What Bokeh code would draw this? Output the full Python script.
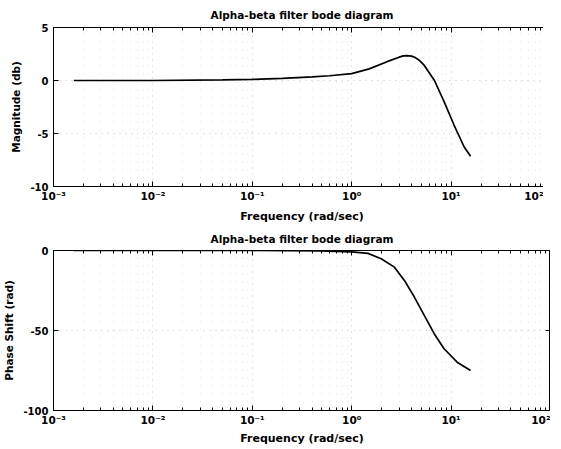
from bokeh.plotting import figure
from bokeh.layouts import column
from bokeh.models import FixedTicker, LogAxis, LinearAxis, Range1d, CustomJSTickFormatter
from bokeh.embed import file_html
from bokeh.resources import INLINE

# ---- data ----
mag_freq = [0.0016, 0.01, 0.05, 0.1, 0.2, 0.4, 0.6, 1.0, 1.5, 2.3, 3.0, 3.3, 3.6, 4.0, 4.3, 4.8, 5.4, 6.8, 8.5, 10.7, 13.5, 15.7]
mag_db = [0.0, 0.0, 0.05, 0.1, 0.2, 0.35, 0.45, 0.65, 1.1, 1.8, 2.2, 2.32, 2.35, 2.3, 2.2, 1.9, 1.4, 0.0, -2.0, -4.2, -6.25, -7.15]

ph_freq = [0.0016, 0.1, 0.5, 1.0, 1.46, 1.98, 2.69, 3.39, 4.27, 5.37, 6.76, 8.5, 11.5, 15.7]
ph_deg = [0.0, 0.0, -0.3, -0.8, -1.8, -5.2, -10.4, -18.7, -29.1, -40.6, -52.0, -61.4, -69.8, -75.0]

x_ticks = [0.001, 0.01, 0.1, 1, 10, 100]
x_tick_labels = ["10\u207b\u00b3", "10\u207b\u00b2", "10\u207b\u00b9", "10\u2070", "10\u00b9", "10\u00b2"]
mag_ticks = [-10, -5, 0, 5]
mag_tick_labels = ["-10", "-5", "0", "5"]
ph_ticks = [-100, -50, 0]
ph_tick_labels = ["-100", "-50", "0"]

title_text = "Alpha-beta filter bode diagram"
xlabel = "Frequency (rad/sec)"

FONT = "DejaVu Sans"
MINOR = [m * 10.0 ** e for e in range(-3, 2) for m in range(2, 10)]


def style_axis(ax):
    ax.major_tick_in = 5
    ax.major_tick_out = 0
    ax.minor_tick_in = 3
    ax.minor_tick_out = 0
    ax.axis_line_color = "black"
    ax.major_tick_line_color = "black"
    ax.minor_tick_line_color = "black"
    ax.major_label_text_font = FONT
    ax.major_label_text_font_style = "bold"
    ax.major_label_text_font_size = "10px"
    ax.major_label_text_color = "black"
    ax.axis_label_text_font = FONT
    ax.axis_label_text_font_style = "bold"
    ax.axis_label_text_font_size = "10.5px"
    ax.axis_label_text_color = "black"


def make(fh, ylabel, yr, yticks, ylabels, xs, ys, title_standoff, xlab_standoff):
    p = figure(frame_width=497, frame_height=fh, x_axis_type="log",
               x_range=Range1d(1e-3, 1e2), y_range=Range1d(*yr),
               output_backend="svg", toolbar_location=None, title=title_text)
    p.title.align = "center"
    p.title.text_font = FONT
    p.title.text_font_style = "bold"
    p.title.text_font_size = "10.5px"
    p.title.text_color = "black"
    p.title.standoff = title_standoff
    p.min_border_left = 45
    p.min_border_right = 0
    p.min_border_top = 0
    p.min_border_bottom = 0
    p.outline_line_color = "black"
    p.outline_line_width = 1
    p.background_fill_color = "white"
    p.border_fill_color = "white"

    p.xaxis.ticker = FixedTicker(ticks=x_ticks, minor_ticks=MINOR)
    p.xaxis.major_label_overrides = {t: l for t, l in zip(x_ticks, x_tick_labels)}
    p.xaxis.axis_label = xlabel
    p.yaxis.ticker = FixedTicker(ticks=yticks, minor_ticks=[])
    p.yaxis.major_label_overrides = {t: l for t, l in zip(yticks, ylabels)}
    p.yaxis.axis_label = ylabel
    style_axis(p.xaxis[0])
    style_axis(p.yaxis[0])
    p.xaxis.major_label_standoff = 3
    p.xaxis.axis_label_standoff = xlab_standoff
    p.yaxis.major_label_standoff = 5
    p.yaxis.axis_label_standoff = 5
    p.xaxis.major_label_text_font_size = "10.5px"
    p.xaxis.axis_label_text_font_size = "11px"

    blank = CustomJSTickFormatter(code="return ''")
    top_ax = LogAxis(ticker=FixedTicker(ticks=x_ticks, minor_ticks=MINOR), formatter=blank)
    style_axis(top_ax)
    top_ax.major_label_standoff = 0
    p.add_layout(top_ax, "above")
    right_ax = LinearAxis(ticker=FixedTicker(ticks=yticks, minor_ticks=[]), formatter=blank)
    style_axis(right_ax)
    right_ax.major_label_standoff = 0
    p.add_layout(right_ax, "right")

    p.xgrid.grid_line_color = "#999999"
    p.xgrid.grid_line_dash = "1 5"
    p.xgrid.grid_line_alpha = 0.55
    p.xgrid.minor_grid_line_color = "#bbbbbb"
    p.xgrid.minor_grid_line_dash = "1 7"
    p.xgrid.minor_grid_line_alpha = 0.45
    p.ygrid.grid_line_color = "#999999"
    p.ygrid.grid_line_dash = "1 5"
    p.ygrid.grid_line_alpha = 0.55

    p.line(xs, ys, line_color="black", line_width=1.7)
    return p


p1 = make(159, "Magnitude (db)", (-10, 5), mag_ticks, mag_tick_labels, mag_freq, mag_db, 13, 5)
p2 = make(160, "Phase Shift (rad)", (-100, 0), ph_ticks, ph_tick_labels, ph_freq, ph_deg, 11, 3)

layout = column(p1, p2)
open("out.html", "w").write(file_html(layout, INLINE))
